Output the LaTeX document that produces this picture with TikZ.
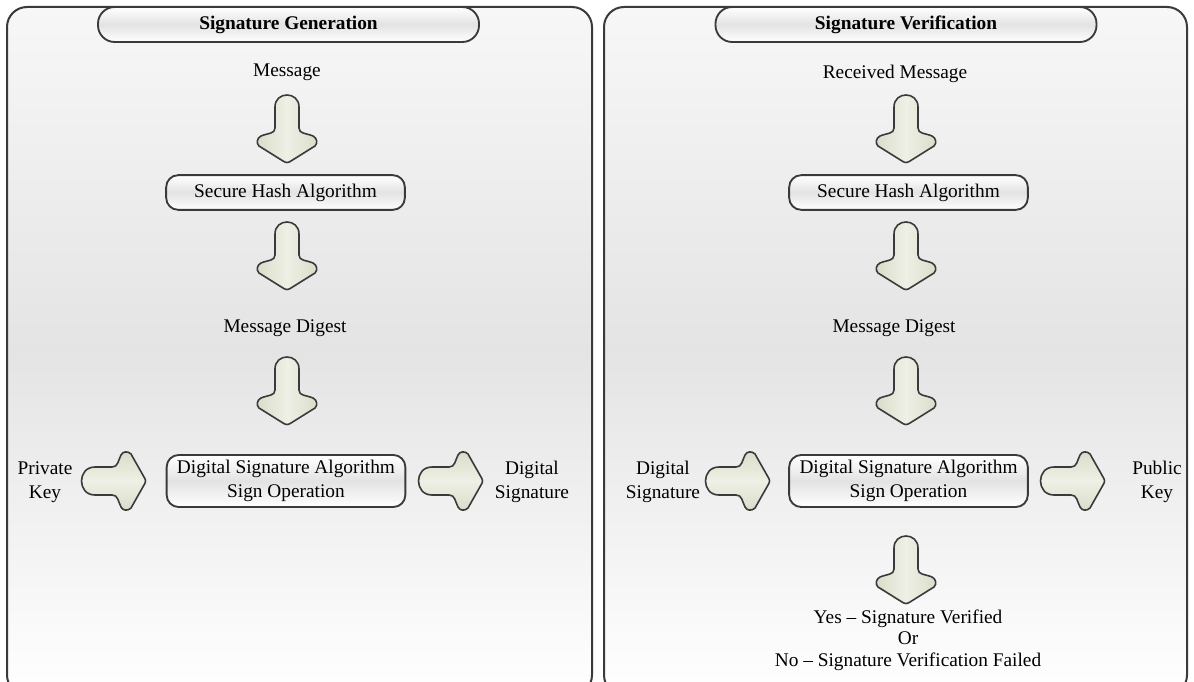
\documentclass[tikz,border=0pt]{standalone}
\usepackage{fontspec}
\setmainfont{Liberation Serif}
\definecolor{framec}{HTML}{3A3A3A}
\definecolor{paneltop}{HTML}{F7F7F7}
\definecolor{panelmid}{HTML}{E4E4E4}
\definecolor{boxmid}{HTML}{E3E3E3}
\definecolor{arredge}{HTML}{D9DCC9}
\definecolor{arrmid}{HTML}{EFF0E6}
\begin{document}
\begin{tikzpicture}[x=0.75pt,y=-0.75pt,
  panel/.style={draw=framec, line width=1.5pt, rounded corners=15pt,
    top color=paneltop, bottom color=white, middle color=panelmid},
  titlebox/.style={draw=framec, line width=1.4pt, rounded corners=12.5pt,
    top color=white, bottom color=white, middle color=boxmid,
    minimum width=285.75pt, minimum height=26.25pt, inner sep=0pt,
    font=\fontsize{14.5}{17}\selectfont\bfseries},
  stepbox/.style={draw=framec, line width=1.4pt, rounded corners=9pt,
    top color=white, bottom color=white, middle color=boxmid,
    minimum width=179pt, inner sep=0pt, align=center,
    font=\fontsize{14.5}{17.5}\selectfont},
  lbl/.style={align=center, inner sep=0pt, font=\fontsize{14.5}{18}\selectfont},
  arrowshape/.style={draw=framec, line width=1.2pt, line join=round},
  darr/.pic={
    \path[arrowshape, left color=arredge, right color=arredge, middle color=arrmid]
      (-12,12) .. controls (-12,-4) and (12,-4) .. (12,12) -- (12,33)
      .. controls (12,39) and (19,38) .. (26,41)
      .. controls (30,43) and (31,48) .. (28,51) -- (4,66)
      .. controls (1,68) and (-1,68) .. (-4,66) -- (-28,51)
      .. controls (-31,48) and (-30,43) .. (-26,41)
      .. controls (-19,38) and (-12,39) .. (-12,33) -- cycle;
  },
  rarr/.pic={
    \path[arrowshape, top color=arredge, bottom color=arredge, middle color=arrmid]
      (14,-14) .. controls (-4,-14) and (-4,14) .. (14,14) -- (31,14)
      .. controls (37,14) and (37,20) .. (40,26)
      .. controls (42,30) and (47,30) .. (50,27) -- (63,4)
      .. controls (65,1) and (65,-1) .. (63,-4) -- (50,-27)
      .. controls (47,-30) and (42,-30) .. (40,-26)
      .. controls (37,-20) and (37,-14) .. (31,-14) -- cycle;
  }]
\useasboundingbox (0,0) rectangle (1194,681);
\fill[white] (0,0) rectangle (1194,681);
\begin{scope}
\clip (0,0) rectangle (1194,681);
\path[panel] (7,7) rectangle (592,695);
\path[panel] (604,7) rectangle (1187,695);
\end{scope}

% ---------- left panel ----------
\node[titlebox] (t1) at (288.5,24.5) {Signature Generation};
\node[lbl] (msg1) at (287,72) {Message};
\pic at (287,95) {darr};
\node[stepbox, minimum height=26pt] (hash1) at (285.5,192.5) {Secure Hash Algorithm};
\pic at (287,222) {darr};
\node[lbl] (dig1) at (285,328) {Message Digest};
\pic at (287,357) {darr};
\node[stepbox, minimum height=39pt] (dsa1) at (286,481) {Digital Signature Algorithm\\Sign Operation};
\node[lbl] (pk) at (45,482) {Private\\Key};
\pic at (81,481) {rarr};
\pic at (418,481) {rarr};
\node[lbl] (ds1) at (532,482) {Digital\\Signature};

% ---------- right panel ----------
\node[titlebox] (t2) at (906,24.5) {Signature Verification};
\node[lbl] (msg2) at (895,74) {Received Message};
\pic at (906,95) {darr};
\node[stepbox, minimum height=26pt] (hash2) at (908.5,192.5) {Secure Hash Algorithm};
\pic at (906,222) {darr};
\node[lbl] (dig2) at (894,328) {Message Digest};
\pic at (906,357) {darr};
\node[stepbox, minimum height=39pt] (dsa2) at (908.5,481) {Digital Signature Algorithm\\Sign Operation};
\node[lbl] (ds2) at (663,482) {Digital\\Signature};
\pic at (705,481) {rarr};
\pic at (1040,481) {rarr};
\node[lbl] (pub) at (1157,482) {Public\\Key};
\pic at (906,536) {darr};
\node[lbl, font=\fontsize{14.5}{16}\selectfont] (res) at (908,640) {Yes – Signature Verified\\Or\\No – Signature Verification Failed};
\end{tikzpicture}
\end{document}
